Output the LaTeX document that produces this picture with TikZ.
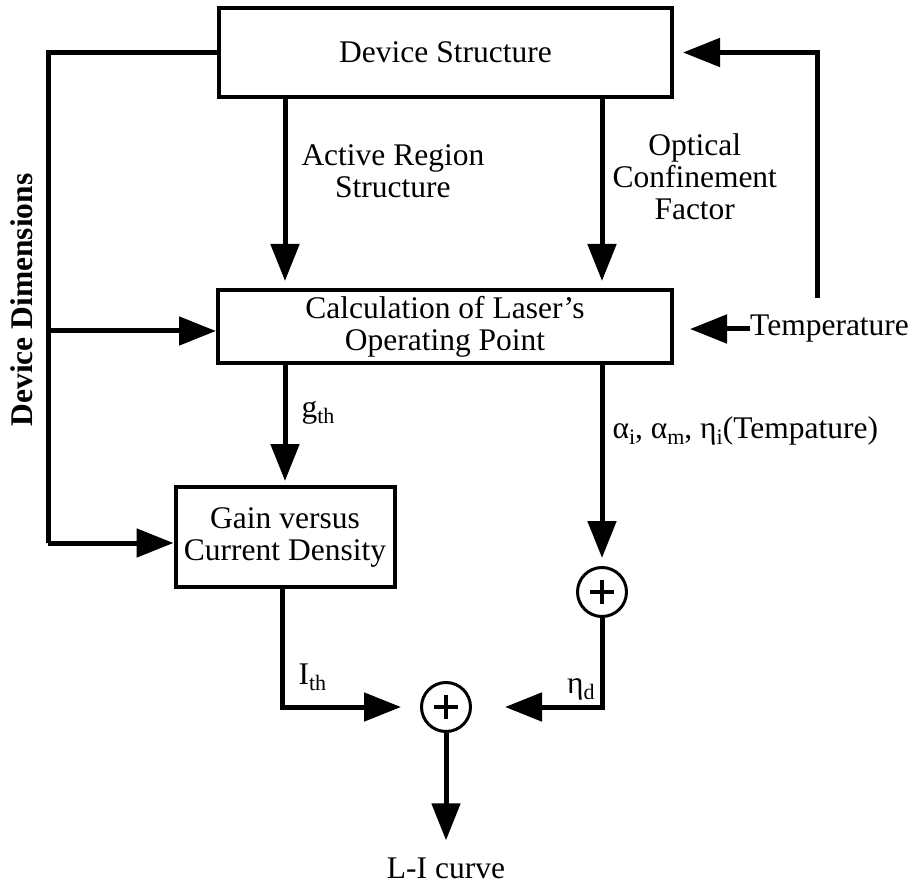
\documentclass[tikz,border=0pt]{standalone}
\usepackage{fontspec}
\setmainfont{Liberation Serif}
\usetikzlibrary{arrows.meta,calc}

\newcommand{\lowsub}[1]{\raisebox{-0.4ex}{\fontsize{22}{22}\selectfont #1}}

\begin{document}
\begin{tikzpicture}[x=1pt,y=-1pt,
  every node/.style={font=\fontsize{31.5}{32}\selectfont},
  block/.style={draw,line width=4pt,inner sep=0pt,align=center},
  sumnode/.style={draw,circle,line width=3pt,minimum size=49pt,inner sep=0pt,
    path picture={\draw[line width=3.5pt] ($(path picture bounding box.center)+(-12pt,0)$) -- ++(24pt,0)
      ($(path picture bounding box.center)+(0,-12pt)$) -- ++(0,24pt);}},
  wire/.style={line width=5pt},
  arr/.style={wire,-{Triangle[length=37pt,width=28pt]}},
  lbl/.style={inner sep=0pt,align=center}]

\useasboundingbox (0,0) rectangle (913,885);

% blocks
\node[block,minimum width=453pt,minimum height=89pt] (ds) at (445.5,52.5) {Device Structure};
\node[block,minimum width=454pt,minimum height=73pt] (calc) at (445,326.5)
  {Calculation of Laser's\\Operating Point};
\node[block,minimum width=219pt,minimum height=100pt] (gain) at (285,537)
  {Gain versus\\Current Density};

% summing junctions
\node[sumnode] (s1) at (602,592) {};
\node[sumnode] (s2) at (446,707) {};

% free labels
\node[lbl,anchor=west] (temp) at (750,329) {Temperature};
\node[lbl] (li) at (446,868) {L-I curve};
\node[lbl,rotate=90,font=\fontsize{31.5}{32}\selectfont\bfseries] (dd) at (22,300) {Device Dimensions};

% branch points of the device-dimension line
\coordinate (c1) at (48,52.5);
\coordinate (c3) at (48,331);
\coordinate (c2) at (48,543);
\coordinate (fb) at (817,298);

% device dimensions feed
\draw[wire,line join=miter] (ds.west) -- (c1) -- (c2);
\draw[arr] (c3) -- (calc.west |- c3);
\draw[arr] (c2) -- (gain.west |- c2);

% structure to operating point
\draw[arr,shorten >=7pt] (ds.south -| gain.north) -- (calc.north -| gain.north)
  node[lbl,pos=0.38,right=14pt] (ar) {Active Region\\Structure};
\draw[arr,shorten >=7pt] (ds.south -| s1.north) -- (calc.north -| s1.north)
  node[lbl,pos=0.41,right=8pt] (oc) {Optical\\Confinement\\Factor};

% temperature input and feedback
\draw[arr,shorten >=16pt] (temp.west) -- (calc.east |- temp.west);
\draw[arr,shorten >=9pt] (fb) -- (fb |- ds.east) -- (ds.east);

% operating point outputs
\draw[arr,shorten >=4pt] (calc.south -| gain.north) -- (gain.north)
  node[lbl,pos=0.4,right=14pt] (gth) {g\lowsub{th}};
\draw[arr,shorten >=8pt] (calc.south -| s1.north) -- (s1.north)
  node[lbl,pos=0.33,right=8pt] (al) {α\lowsub{i}, α\lowsub{m}, η\lowsub{i}(Tempature)};

% threshold current and differential efficiency into the sum
\draw[arr,shorten >=19pt,line join=miter] (gain.south -| 282,0) -- (282,707) -- (s2.west)
  node[lbl,pos=0.22,above=14pt] (ith) {I\lowsub{th}};
\draw[arr,shorten >=33pt,line join=miter] (s1.south) -- (s1.south |- s2.east)
  node[lbl,pos=0.8,left=5pt] (etad) {η\lowsub{d}} -- (s2.east);

% output
\draw[arr,shorten >=17pt] (s2.south) -- (s2.south |- li.north);

\end{tikzpicture}
\end{document}
